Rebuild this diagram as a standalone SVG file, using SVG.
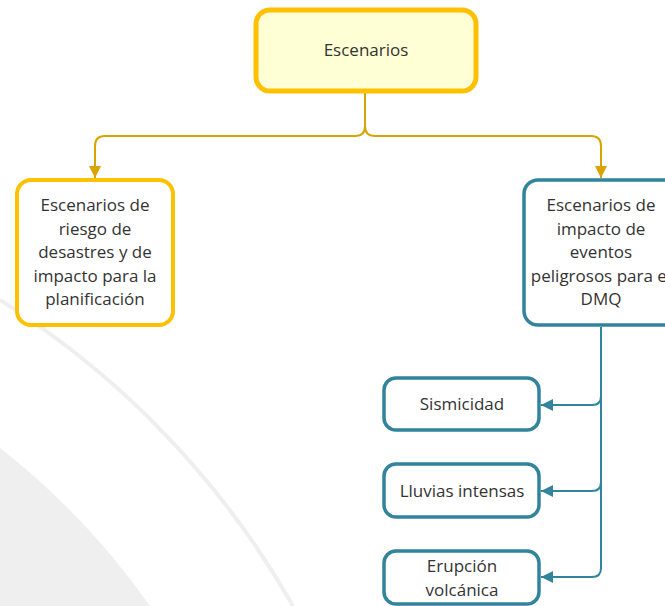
<svg xmlns="http://www.w3.org/2000/svg" width="665" height="606" viewBox="0 0 665 606">
<style>
  text { font-family: "Open Sans", "Noto Sans", "Liberation Sans", sans-serif; font-size: 17px; fill: #333333; text-anchor: middle; }
  .yel { fill: #ffffff; stroke: #ffc000; stroke-width: 4; }
  .teal { fill: #ffffff; stroke: #31849b; stroke-width: 3.5; }
  .cy { fill: none; stroke: #d9a300; stroke-width: 2; }
  .ct { fill: none; stroke: #31849b; stroke-width: 2; }
</style>
<defs>
  <marker id="ay" viewBox="0 0 12 12" refX="12" refY="6" markerWidth="12" markerHeight="12" markerUnits="userSpaceOnUse" orient="auto">
    <path d="M0,0 L12,6 L0,12 Z" fill="#d9a300"/>
  </marker>
  <marker id="at" viewBox="0 0 12 12" refX="12" refY="6" markerWidth="12" markerHeight="12" markerUnits="userSpaceOnUse" orient="auto">
    <path d="M0,0 L12,6 L0,12 Z" fill="#31849b"/>
  </marker>
</defs>
<rect width="665" height="606" fill="#ffffff"/>
<g id="background">
  <path d="M0,448 A744,744 0 0 1 150,606 L0,606 Z" fill="#efefef"/>
  <path d="M0,300 A865,865 0 0 1 293,606" fill="none" stroke="#efefef" stroke-width="4"/>
</g>
<g id="connectors">
  <path class="cy" d="M365,93 V126 Q365,136 355,136 H105 Q95,136 95,146 V178" marker-end="url(#ay)"/>
  <path class="cy" d="M365,93 V126 Q365,136 375,136 H591 Q601,136 601,146 V178" marker-end="url(#ay)"/>
  <path class="ct" d="M601,327 V396 Q601,405 592,405 H541" marker-end="url(#at)"/>
  <path class="ct" d="M601,327 V482 Q601,491 592,491 H541" marker-end="url(#at)"/>
  <path class="ct" d="M601,327 V568 Q601,577 592,577 H541" marker-end="url(#at)"/>
</g>
<g id="node-escenarios">
  <rect x="256" y="10" width="220" height="81" rx="14" fill="#ffffd5" stroke="#ffc000" stroke-width="5"/>
  <text x="366" y="56">Escenarios</text>
</g>
<g id="node-riesgo">
  <rect class="yel" x="17" y="180" width="156" height="145" rx="14"/>
  <text x="95" y="211">Escenarios de</text>
  <text x="95" y="235">riesgo de</text>
  <text x="95" y="258">desastres y de</text>
  <text x="95" y="282">impacto para la</text>
  <text x="95" y="305">planificación</text>
</g>
<g id="node-impacto">
  <rect class="teal" x="524" y="180" width="154" height="145" rx="14"/>
  <text x="601" y="211">Escenarios de</text>
  <text x="601" y="235">impacto de</text>
  <text x="601" y="258">eventos</text>
  <text x="601" y="282">peligrosos para el</text>
  <text x="601" y="305">DMQ</text>
</g>
<g id="node-sismicidad">
  <rect class="teal" x="384" y="378" width="155" height="52" rx="12"/>
  <text x="462" y="410">Sismicidad</text>
</g>
<g id="node-lluvias">
  <rect class="teal" x="384" y="464" width="155" height="53" rx="12"/>
  <text x="462" y="497">Lluvias intensas</text>
</g>
<g id="node-erupcion">
  <rect class="teal" x="384" y="551" width="155" height="53" rx="12"/>
  <text x="462" y="572">Erupción</text>
  <text x="462" y="596">volcánica</text>
</g>
</svg>
